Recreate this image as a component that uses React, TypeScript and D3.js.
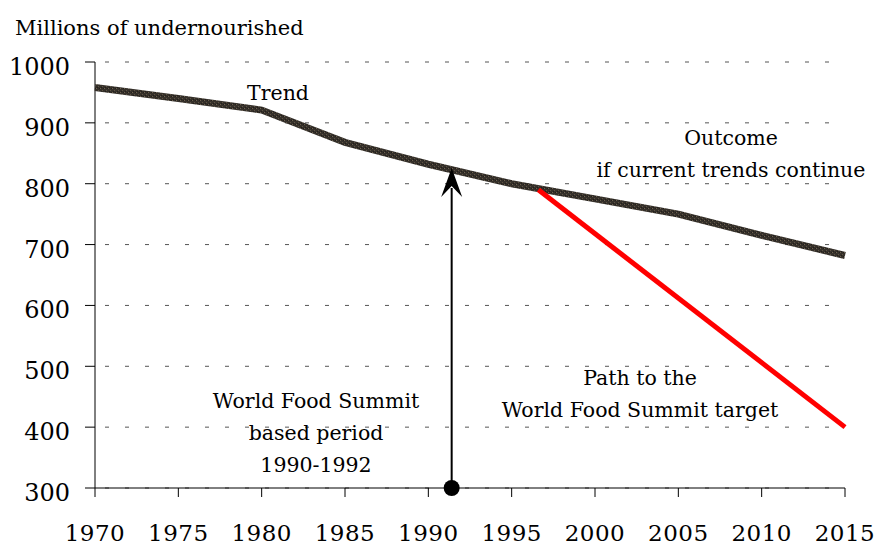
import * as d3 from 'd3';
import React from 'react';

const years = [1970, 1975, 1980, 1985, 1990, 1995, 2000, 2005, 2010, 2015];
const trend = [958, 940, 921, 868, 832, 800, 775, 750, 715, 682];
const targetYears = [1996.6, 2015];
const targetValues = [790, 400];
const summitYear = 1991.4;
const summitValue = 826;
const yTicks = [300, 400, 500, 600, 700, 800, 900, 1000];

const labels = [
    { lines: ['Trend'], x: 278, y: 100 },
    { lines: ['Outcome', 'if current trends continue'], x: 731, y: 145, gap: 32 },
    { lines: ['Path to the', 'World Food Summit target'], x: 640, y: 385, gap: 32 },
    { lines: ['World Food Summit', 'based period', '1990-1992'], x: 316, y: 408, gap: 32 },
];

const width = 877;
const height = 547;
const font = '"DejaVu Serif", serif';

export default function App() {
    const x = d3.scaleLinear([1970, 2015], [95, 845]);
    const y = d3.scaleLinear([300, 1000], [488, 62]);

    const line = d3.line<[number, number]>()
        .x(d => x(d[0]))
        .y(d => y(d[1]));

    const trendPts = years.map((yr, i) => [yr, trend[i]] as [number, number]);
    const targetPts = targetYears.map((yr, i) => [yr, targetValues[i]] as [number, number]);

    const ax = x(summitYear);
    const tipY = y(summitValue);

    return (
        <svg width={width} height={height} style={{ position: 'absolute', left: 0, top: 0, background: '#fff' }}
            fontFamily={font}>
            <defs>
                <pattern id="tex" width="4" height="4" patternUnits="userSpaceOnUse">
                    <rect width="4" height="4" fill="#35302a" />
                    <rect x="0" y="0" width="1" height="1" fill="#6e6250" />
                    <rect x="2" y="2" width="1" height="1" fill="#5f5444" />
                    <rect x="3" y="0" width="1" height="1" fill="#221e1a" />
                    <rect x="1" y="3" width="1" height="1" fill="#221e1a" />
                </pattern>
            </defs>

            {/* grid */}
            {yTicks.map(t => (
                <line key={'g' + t} x1={x(1970)} x2={x(2015)} y1={y(t)} y2={y(t)}
                    stroke="#555" strokeWidth={1} strokeDasharray="4,16" strokeDashoffset={-10} />
            ))}

            {/* axes */}
            <line x1={x(1970)} x2={x(1970)} y1={y(1000)} y2={y(300)} stroke="#000" />
            <line x1={x(1970)} x2={x(2015)} y1={y(300)} y2={y(300)} stroke="#000" />
            {yTicks.map(t => (
                <g key={'yt' + t}>
                    <line x1={x(1970) - 10} x2={x(1970)} y1={y(t)} y2={y(t)} stroke="#000" />
                    <text x={70} y={y(t) + 13} fontSize={24} textAnchor="end">{t}</text>
                </g>
            ))}
            {years.map(yr => (
                <g key={'xt' + yr}>
                    <line x1={x(yr)} x2={x(yr)} y1={y(300)} y2={y(300) + 9} stroke="#000" />
                    <text x={x(yr)} y={541} fontSize={23} textAnchor="middle" letterSpacing={0.5}>{yr}</text>
                </g>
            ))}

            <text x={15} y={35} fontSize={21}>Millions of undernourished</text>

            {/* trend */}
            <path d={line(trendPts) ?? ''} fill="none" stroke="url(#tex)" strokeWidth={7} />

            {/* target path */}
            <path d={line(targetPts) ?? ''} fill="none" stroke="#ff0000" strokeWidth={5} />

            {/* summit arrow */}
            <line x1={ax} x2={ax} y1={y(300)} y2={tipY + 20} stroke="#000" strokeWidth={2} />
            <path d={`M${ax},${tipY} L${ax + 10.5},${tipY + 29} L${ax},${tipY + 18} L${ax - 10.5},${tipY + 29} Z`} fill="#000" />
            <circle cx={ax} cy={y(300)} r={8} fill="#000" />

            {labels.map((l, i) => (
                <text key={'l' + i} x={l.x} y={l.y} fontSize={20.5} textAnchor="middle">
                    {l.lines.map((s, j) => (
                        <tspan key={j} x={l.x} y={l.y + j * (l.gap ?? 0)}>{s}</tspan>
                    ))}
                </text>
            ))}
        </svg>
    );
}
